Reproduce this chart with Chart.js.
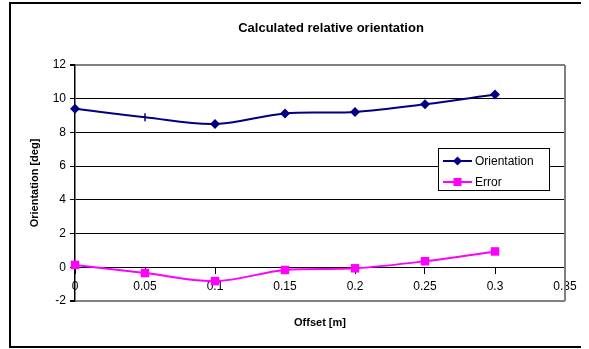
<!DOCTYPE html>
<html>
<head>
<meta charset="utf-8">
<script src="https://cdn.jsdelivr.net/npm/chart.js@4"></script>
<style>
  html, body { margin: 0; padding: 0; background: #fff; }
  #wrap { width: 589px; height: 349px; }
</style>
</head>
<body>
<div id="wrap"><canvas id="chart" width="589" height="349"></canvas></div>
<script>
// data
var offsets = [0, 0.05, 0.1, 0.15, 0.2, 0.25, 0.3];
var orientation = [9.4, 8.9, 8.5, 9.13, 9.21, 9.67, 10.25];
var error = [0.14, -0.34, -0.82, -0.16, -0.06, 0.36, 0.94];
var xTickLabels = ['0', '0.05', '0.1', '0.15', '0.2', '0.25', '0.3', '0.35'];

var chartTitle = 'Calculated relative orientation';
var xTitle = 'Offset [m]';
var yTitle = 'Orientation [deg]';

var FONT = '"Liberation Sans", Arial, sans-serif';

function toPoints(ys) {
    return offsets.map(function (x, i) { return { x: x, y: ys[i] }; });
}

//Title, x axis title, frame, plot border and legend drawn on top
var decorations = {
    id: 'decorations',
    afterDraw: function (chart) {
        var ctx = chart.ctx;
        var area = chart.chartArea;
        ctx.save();

        // plot area border (right side, gray)
        ctx.strokeStyle = '#808080';
        ctx.lineWidth = 2;
        ctx.beginPath();
        ctx.moveTo(area.right, area.top);
        ctx.lineTo(area.right, area.bottom);
        ctx.stroke();

        // outer frame
        ctx.strokeStyle = '#000';
        ctx.lineWidth = 2;
        ctx.beginPath();
        ctx.moveTo(581, 3);
        ctx.lineTo(10, 3);
        ctx.lineTo(10, 347);
        ctx.lineTo(581, 347);
        ctx.stroke();

        ctx.fillStyle = '#000';
        ctx.textAlign = 'center';
        ctx.textBaseline = 'middle';
        ctx.font = 'bold 13px ' + FONT;
        ctx.fillText(chartTitle, 331, 28);

        ctx.font = 'bold 11px ' + FONT;
        ctx.fillText(xTitle, (area.left + area.right) / 2, 323);

        // legend box
        var lx = 438, ly = 148, lw = 111, lh = 42;
        ctx.fillStyle = '#fff';
        ctx.fillRect(lx, ly, lw, lh);
        ctx.strokeStyle = '#000';
        ctx.lineWidth = 1;
        ctx.strokeRect(lx + 0.5, ly + 0.5, lw, lh);

        chart.data.datasets.forEach(function (ds, i) {
            var cy = ly + 13 + i * 21;
            ctx.strokeStyle = ds.borderColor;
            ctx.lineWidth = 2;
            ctx.beginPath();
            ctx.moveTo(lx + 5, cy);
            ctx.lineTo(lx + 34, cy);
            ctx.stroke();
            ctx.fillStyle = ds.pointBackgroundColor;
            if (i === 0) {
                ctx.beginPath();
                ctx.moveTo(lx + 19.5, cy - 4.5);
                ctx.lineTo(lx + 24, cy);
                ctx.lineTo(lx + 19.5, cy + 4.5);
                ctx.lineTo(lx + 15, cy);
                ctx.closePath();
                ctx.fill();
            } else {
                ctx.fillRect(lx + 15.5, cy - 4, 8, 8);
            }
            ctx.fillStyle = '#000';
            ctx.textAlign = 'left';
            ctx.font = '12px ' + FONT;
            ctx.fillText(ds.label, lx + 37, cy + 1);
        });

        ctx.restore();
    }
};

var context = document.getElementById('chart').getContext('2d');

var chart = new Chart(context, {
    type: 'line',
    data: {
        datasets: [
            {
                label: 'Orientation',
                data: toPoints(orientation),
                borderColor: '#000080',
                backgroundColor: '#000080',
                pointBackgroundColor: '#000080',
                pointBorderColor: '#000080',
                borderWidth: 2,
                pointStyle: ['rectRot', 'line', 'rectRot', 'rectRot', 'rectRot', 'rectRot', 'rectRot'],
                rotation: [0, 90, 0, 0, 0, 0, 0],
                pointRadius: [5, 4, 5, 5, 5, 5, 5],
                pointBorderWidth: [0, 1.5, 0, 0, 0, 0, 0],
                tension: 0.35,
                clip: false,
                fill: false
            },
            {
                label: 'Error',
                data: toPoints(error),
                borderColor: '#FF00FF',
                backgroundColor: '#FF00FF',
                pointBackgroundColor: '#FF00FF',
                pointBorderColor: '#FF00FF',
                borderWidth: 2,
                pointStyle: 'rect',
                pointRadius: 6,
                pointBorderWidth: 0,
                tension: 0.35,
                clip: false,
                fill: false
            }
        ]
    },
    options: {
        animation: false,
        responsive: false,
        layout: {
            padding: { left: 10, top: 65, right: 24, bottom: 48 }
        },
        plugins: {
            legend: { display: false },
            tooltip: { enabled: false }
        },
        scales: {
            x: {
                type: 'linear',
                position: { y: 0 },
                min: 0,
                max: 0.35,
                ticks: {
                    stepSize: 0.05,
                    color: '#000',
                    font: { family: FONT, size: 12 },
                    padding: 6,
                    maxRotation: 0,
                    callback: function (value, index) { return xTickLabels[index]; }
                },
                grid: {
                    drawOnChartArea: false,
                    drawTicks: true,
                    tickLength: 6,
                    tickColor: '#000'
                },
                border: { color: '#000', width: 1 }
            },
            y: {
                min: -2,
                max: 12,
                afterFit: function (scale) { scale.width = 65; },
                ticks: {
                    stepSize: 2,
                    color: '#000',
                    font: { family: FONT, size: 12 },
                    padding: 4
                },
                grid: {
                    color: function (c) {
                        return (c.tick && (c.tick.value === 12 || c.tick.value === -2)) ? '#808080' : '#000';
                    },
                    lineWidth: function (c) {
                        return (c.tick && (c.tick.value === 12 || c.tick.value === -2)) ? 2 : 1;
                    },
                    tickLength: 5,
                    tickColor: '#000'
                },
                border: { color: '#000', width: 1.5 },
                title: {
                    display: true,
                    text: yTitle,
                    color: '#000',
                    font: { family: FONT, size: 11, weight: 'bold' },
                    padding: { top: 18, bottom: 0 }
                }
            }
        }
    },
    plugins: [decorations]
});
</script>
</body>
</html>
